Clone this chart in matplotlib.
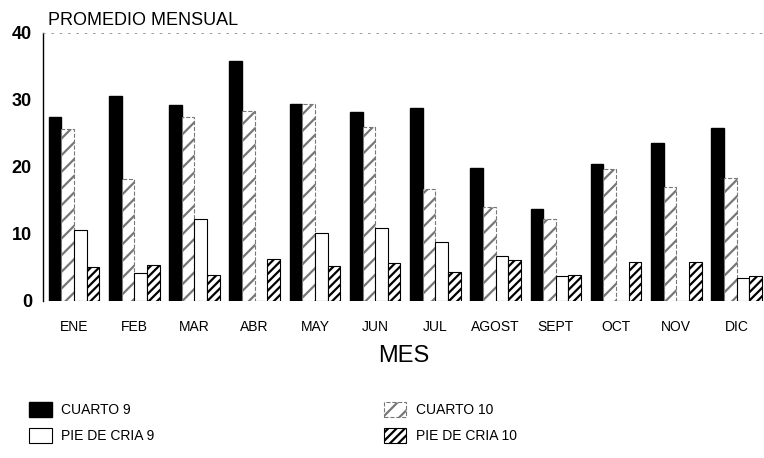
import matplotlib
matplotlib.use("Agg")
import matplotlib.pyplot as plt
import numpy as np

meses = ["ENE", "FEB", "MAR", "ABR", "MAY", "JUN", "JUL", "AGOST", "SEPT", "OCT", "NOV", "DIC"]
cuarto9 = [27.5, 30.6, 29.2, 35.8, 29.4, 28.2, 28.8, 19.8, 13.7, 20.4, 23.6, 25.8]
cuarto10 = [25.7, 18.2, 27.4, 28.4, 29.4, 26.0, 16.7, 14.0, 12.2, 19.7, 17.0, 18.4]
pie9 = [10.6, 4.2, 12.2, 0.0, 10.1, 10.9, 8.8, 6.7, 3.7, 0.0, 0.0, 3.4]
pie10 = [5.1, 5.4, 3.9, 6.3, 5.2, 5.6, 4.3, 6.1, 3.9, 5.8, 5.8, 3.7]
yticks = [0, 10, 20, 30, 40]

plt.rcParams['font.family'] = ['Liberation Sans', 'DejaVu Sans']
plt.rcParams['hatch.linewidth'] = 1.6

fig = plt.figure(figsize=(7.64, 4.58), dpi=100)
ax = fig.add_axes([0.0563, 0.343, 0.944, 0.585])

x = np.arange(len(meses))
w = 0.21
b1 = ax.bar(x - 1.5 * w, cuarto9, w, color='black', edgecolor='black', label='CUARTO 9')
b2 = ax.bar(x - 0.5 * w, cuarto10, w, color='white', edgecolor='#777777', hatch='//',
            linewidth=0.8, linestyle='--', label='CUARTO 10')
b3 = ax.bar(x + 0.5 * w, pie9, w, color='white', edgecolor='black', linewidth=0.8,
            label='PIE DE CRIA 9')
b4 = ax.bar(x + 1.5 * w, pie10, w, color='white', edgecolor='black', hatch='////',
            linewidth=0.8, label='PIE DE CRIA 10')

ax.set_xlim(-0.515, 11.46)
ax.set_ylim(0, 40)
ax.set_yticks(yticks)
ax.set_yticklabels([str(v) for v in yticks], fontsize=13, fontweight='bold')
ax.set_xticks(x)
ax.set_xticklabels(meses, fontsize=10)
ax.tick_params(axis='both', length=0)
ax.tick_params(axis='y', pad=8)
ax.tick_params(axis='x', pad=14)
for s in ['right', 'bottom']:
    ax.spines[s].set_visible(False)
ax.spines['top'].set_linestyle((0, (2, 8)))
ax.spines['top'].set_linewidth(0.6)
ax.spines['top'].set_color('#888888')
ax.spines['left'].set_linewidth(1.0)

ax.set_xlabel('MES', fontsize=17, labelpad=8)
fig.text(0.063, 0.955, 'PROMEDIO MENSUAL', fontsize=13, ha='left', va='center')

fig.legend(handles=[b1, b3, b2, b4], ncol=2, loc='upper left',
           bbox_to_anchor=(0.022, 0.15), frameon=False, fontsize=10,
           columnspacing=16.5, handlelength=1.6, handleheight=1.3,
           labelspacing=0.8, handletextpad=0.7)

fig.savefig('out.png', dpi=100)
